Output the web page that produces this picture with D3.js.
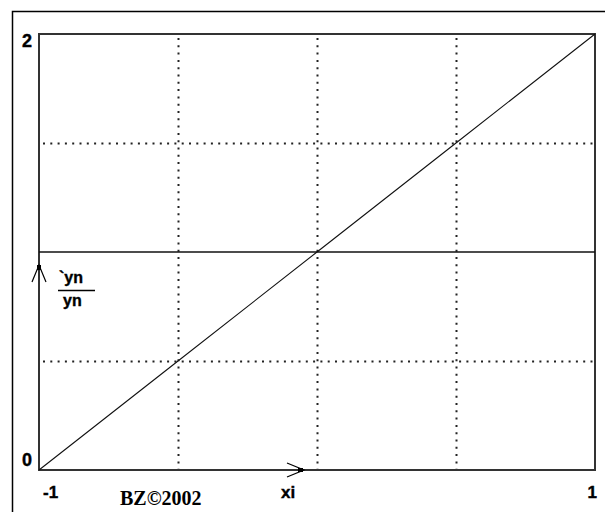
<!DOCTYPE html>
<html>
<head>
<meta charset="utf-8">
<script src="https://cdn.jsdelivr.net/npm/d3@7"></script>
<style>
  body { margin: 0; background: #fff; }
  svg { display: block; }
  .lbl { font-family: "Liberation Sans", Arial, sans-serif; font-weight: bold; fill: #000; stroke: #000; stroke-width: 0.4; }
</style>
</head>
<body>
<svg id="canvas" width="605" height="512"></svg>
<script>
// values
let xi = [-1, -0.5, 0, 0.5, 1]
let yn = [0, 0.5, 1, 1.5, 2]
let ynRatio = [1, 1, 1, 1, 1]
let xGrid = [-0.5, 0, 0.5]
let yGrid = [0.5, 1.5]
let xTickLabels = ['-1', '1']
let yTickLabels = ['0', '2']

let canvas = d3.select('#canvas')

let x = d3.scaleLinear().domain([-1, 1]).range([39, 595])
let y = d3.scaleLinear().domain([0, 2]).range([470, 34])

// outer frame (only left/top visible, rest runs off the image)
canvas.append('path')
  .attr('d', 'M12.5,512 V11.5 H605')
  .attr('fill', 'none')
  .attr('stroke', '#000')
  .attr('stroke-width', 1.5)

// dotted grid
canvas.append('g').selectAll('line')
  .data(xGrid)
  .enter()
  .append('line')
  .attr('x1', d => Math.round(x(d)) + 0.5)
  .attr('x2', d => Math.round(x(d)) + 0.5)
  .attr('y1', y(2) + 4)
  .attr('y2', y(0))
  .attr('stroke', '#222')
  .attr('stroke-width', 2)
  .attr('stroke-dasharray', '2,5.3')

canvas.append('g').selectAll('line')
  .data(yGrid)
  .enter()
  .append('line')
  .attr('y1', d => Math.round(y(d)) + 0.5)
  .attr('y2', d => Math.round(y(d)) + 0.5)
  .attr('x1', x(-1) + 4)
  .attr('x2', x(1))
  .attr('stroke', '#222')
  .attr('stroke-width', 2)
  .attr('stroke-dasharray', '2,5.3')

// plot box
canvas.append('rect')
  .attr('x', x(-1))
  .attr('y', y(2))
  .attr('width', x(1) - x(-1))
  .attr('height', y(0) - y(2))
  .attr('fill', 'none')
  .attr('stroke', '#333')
  .attr('stroke-width', 2)

let line = d3.line()
  .x((d, i) => x(xi[i]))
  .y(d => y(d))

canvas.append('path')
  .datum(ynRatio)
  .attr('d', line)
  .attr('fill', 'none')
  .attr('stroke', '#111')
  .attr('stroke-width', 1.6)

canvas.append('path')
  .datum(yn)
  .attr('d', line)
  .attr('fill', 'none')
  .attr('stroke', '#111')
  .attr('stroke-width', 1.1)

// axis arrows
let ax = x(-1), ay = 265
canvas.append('path')
  .attr('d', `M${ax - 7},${ay + 17} L${ax},${ay} L${ax + 7},${ay + 17}`)
  .attr('fill', 'none').attr('stroke', '#000').attr('stroke-width', 1.2)
canvas.append('rect')
  .attr('x', ax - 2).attr('y', ay).attr('width', 4).attr('height', 5).attr('fill', '#000')

let bx = 304, by = y(0)
canvas.append('path')
  .attr('d', `M${bx - 17},${by - 7} L${bx},${by} L${bx - 17},${by + 7}`)
  .attr('fill', 'none').attr('stroke', '#000').attr('stroke-width', 1.2)
canvas.append('rect')
  .attr('x', bx - 6).attr('y', by - 2).attr('width', 5).attr('height', 4).attr('fill', '#000')

// tick labels
canvas.selectAll('.xt')
  .data(xTickLabels)
  .enter()
  .append('text')
  .attr('class', 'lbl')
  .attr('x', (d, i) => i === 0 ? x(-1) + 4 : x(1) + 2)
  .attr('y', 498)
  .attr('text-anchor', (d, i) => i === 0 ? 'start' : 'end')
  .attr('font-size', 17)
  .text(d => d)

canvas.selectAll('.yt')
  .data(yTickLabels)
  .enter()
  .append('text')
  .attr('class', 'lbl')
  .attr('x', 32)
  .attr('y', (d, i) => i === 0 ? 466 : 47)
  .attr('text-anchor', 'end')
  .attr('font-size', 18)
  .text(d => d)

// axis names
canvas.append('text').attr('class', 'lbl')
  .attr('x', 281).attr('y', 498).attr('font-size', 17).text('xi')

canvas.append('text').attr('class', 'lbl')
  .attr('x', 59).attr('y', 283).attr('font-size', 16).text('`yn')
canvas.append('line')
  .attr('x1', 58).attr('x2', 95).attr('y1', 290.5).attr('y2', 290.5)
  .attr('stroke', '#000').attr('stroke-width', 1.5)
canvas.append('text').attr('class', 'lbl')
  .attr('x', 63).attr('y', 306).attr('font-size', 16).text('yn')

canvas.append('text')
  .attr('x', 120).attr('y', 505)
  .attr('font-family', '"Liberation Serif", "Times New Roman", serif')
  .attr('font-weight', 'bold')
  .attr('font-size', 20)
  .text('BZ©2002')
</script>
</body>
</html>
